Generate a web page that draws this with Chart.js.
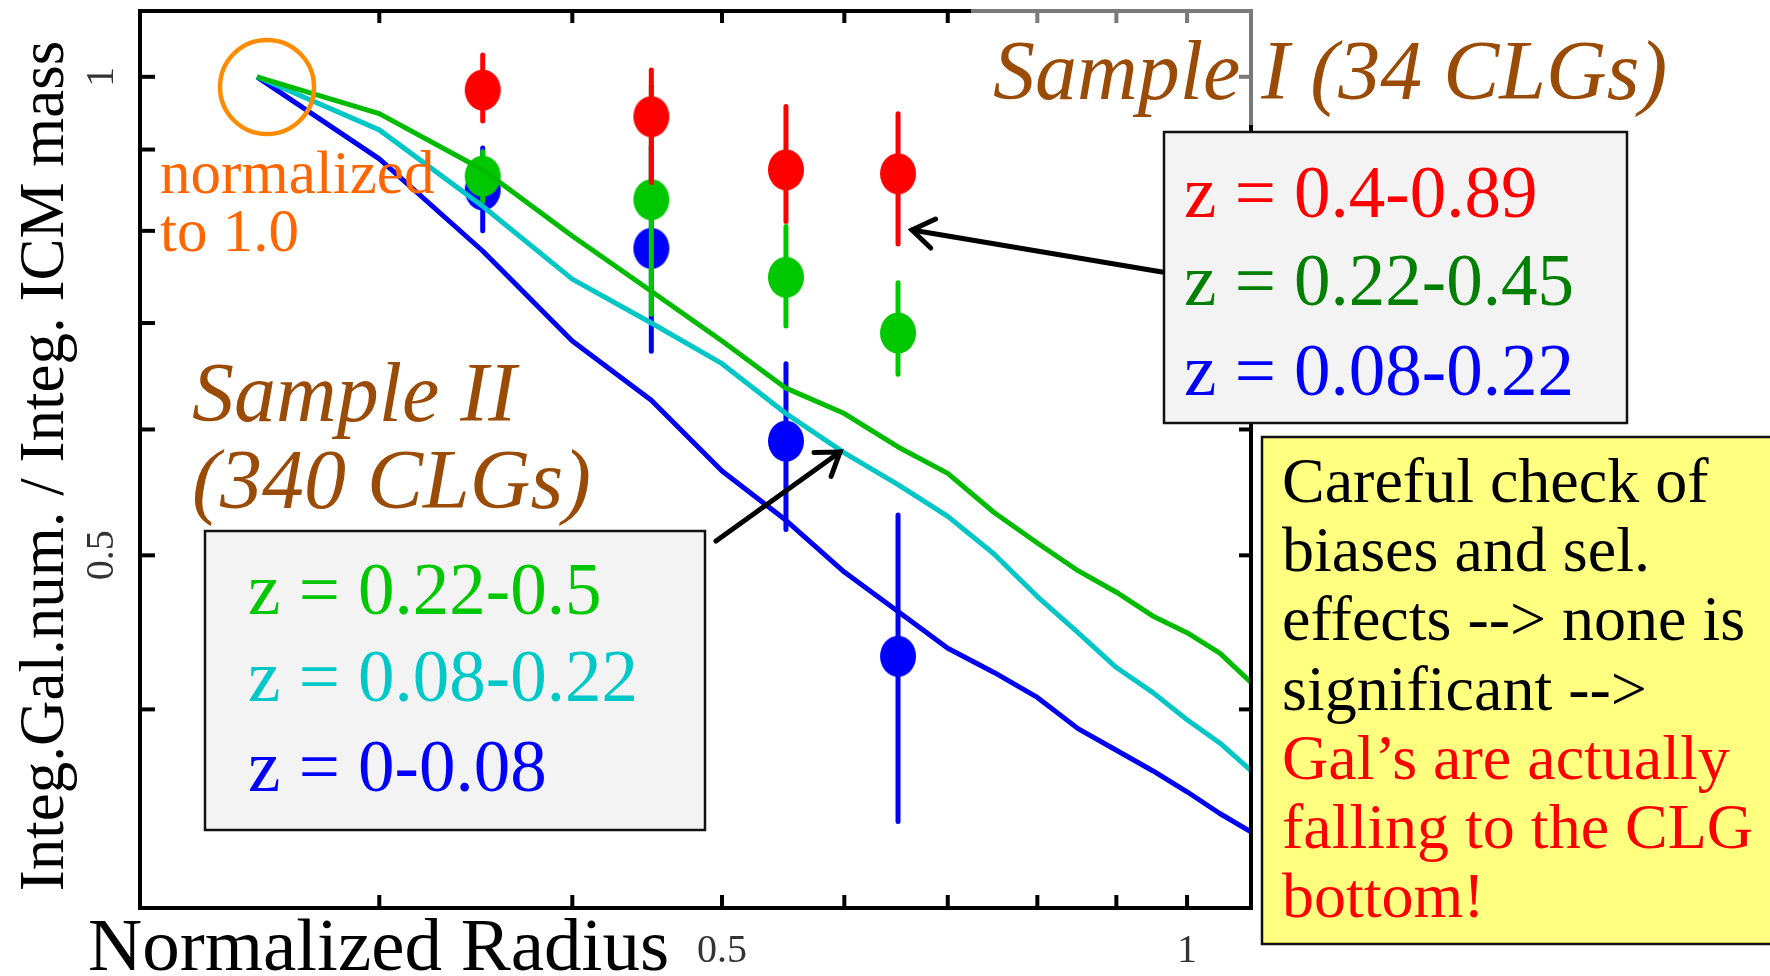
<!DOCTYPE html>
<html>
<head>
<meta charset="utf-8">
<script src="https://cdn.jsdelivr.net/npm/chart.js@4.4.1/dist/chart.umd.min.js"></script>
<style>
  html, body { margin: 0; padding: 0; background: #fff; }
  #wrap { width: 1770px; height: 976px; }
</style>
</head>
<body>
<div id="wrap"><canvas id="chart" width="1770" height="976"></canvas></div>
<script>
// Sample II: integrated profiles, sampled every 0.05 in normalized radius
const radius = [0.25, 0.3, 0.35, 0.4, 0.45, 0.5, 0.55, 0.6, 0.65, 0.7, 0.75, 0.8, 0.85, 0.9, 0.95, 1.0, 1.05, 1.1];
const profHighZ = [1.0, 0.948, 0.874, 0.794, 0.733, 0.682, 0.637, 0.614, 0.585, 0.563, 0.532, 0.509, 0.489, 0.474, 0.458, 0.447, 0.434, 0.416]; // z = 0.22-0.5
const profMidZ  = [1.0, 0.926, 0.829, 0.746, 0.700, 0.660, 0.614, 0.580, 0.554, 0.529, 0.501, 0.471, 0.447, 0.425, 0.410, 0.394, 0.381, 0.366]; // z = 0.08-0.22
const profLowZ  = [1.0, 0.888, 0.777, 0.682, 0.626, 0.565, 0.526, 0.488, 0.461, 0.437, 0.422, 0.407, 0.389, 0.377, 0.366, 0.355, 0.344, 0.335]; // z = 0-0.08

// Sample I: points with error bars
const sampleRadius = [0.35, 0.45, 0.55, 0.65];
const redVal   = [0.981, 0.944, 0.874, 0.869];
const redLo    = [0.938, 0.858, 0.811, 0.785];
const redHi    = [1.032, 1.010, 0.958, 0.948];
const greenVal = [0.866, 0.837, 0.748, 0.690];
const greenLo  = [0.835, 0.709, 0.697, 0.650];
const greenHi  = [0.897, 0.988, 0.805, 0.742];
const blueVal  = [0.849, 0.780, 0.590, 0.432];
const blueLo   = [0.800, 0.672, 0.519, 0.340];
const blueHi   = [0.902, 0.905, 0.660, 0.530];

// axes
const xMin = 0.21, xMax = 1.1;
const yMin = 0.3, yMax = 1.1;
const xTicks = [0.3, 0.4, 0.5, 0.6, 0.7, 0.8, 0.9, 1.0];
const yTicks = [0.4, 0.5, 0.6, 0.7, 0.8, 0.9, 1.0];
const xTickLabels = [[0.5, '0.5'], [1.0, '1']];
const yTickLabels = [[0.5, '0.5'], [1.0, '1']];

const SERIF = '"Liberation Serif", "Times New Roman", serif';
const BROWN = '#9a4b06';

function pts(xs, ys) {
    return xs.map(function(x, i) { return { x: x, y: ys[i] }; });
}

// ellipse marker, a little taller than wide
function dot(color) {
    const c = document.createElement('canvas');
    c.width = 38; c.height = 42;
    const g = c.getContext('2d');
    g.fillStyle = color;
    g.beginPath();
    g.ellipse(19, 21, 18, 20.5, 0, 0, Math.PI * 2);
    g.fill();
    return c;
}

function curve(ys, color) {
    return { data: pts(radius, ys), showLine: true, borderColor: color, borderWidth: 5,
             pointRadius: 0, tension: 0, borderJoinStyle: 'round', order: 0 };
}

function marks(vals, color, order) {
    return { data: pts(sampleRadius, vals), showLine: false, pointStyle: dot(color),
             pointRadius: 19, order: order };
}

function errBars(lo, hi, color, order) {
    return sampleRadius.map(function(x, i) {
        return { data: [{ x: x, y: lo[i] }, { x: x, y: hi[i] }], showLine: true,
                 borderColor: color, borderWidth: 5, borderCapStyle: 'round',
                 pointRadius: 0, order: order };
    });
}

const datasets = [
    curve(profHighZ, '#00bb00'),
    curve(profMidZ, '#00c6c6'),
    curve(profLowZ, '#0000f0'),
    marks(redVal, '#ff0000', 1)
].concat(errBars(redLo, redHi, '#ff0000', 2))
 .concat([marks(greenVal, '#00c800', 3)])
 .concat(errBars(greenLo, greenHi, '#00c800', 4))
 .concat([marks(blueVal, '#0000ff', 5)])
 .concat(errBars(blueLo, blueHi, '#0000ff', 6));

function text(ctx, s, x, y, font, color, align) {
    ctx.font = font;
    ctx.fillStyle = color;
    ctx.textAlign = align || 'left';
    ctx.textBaseline = 'alphabetic';
    ctx.fillText(s, x, y);
}

function line(ctx, x1, y1, x2, y2, color, w) {
    ctx.strokeStyle = color;
    ctx.lineWidth = w;
    ctx.beginPath();
    ctx.moveTo(x1, y1);
    ctx.lineTo(x2, y2);
    ctx.stroke();
}

function arrow(ctx, x1, y1, x2, y2) {
    const ang = Math.atan2(y2 - y1, x2 - x1);
    const len = 26, spread = 0.6;
    ctx.lineCap = 'round';
    line(ctx, x1, y1, x2, y2, '#000', 5);
    ctx.beginPath();
    ctx.moveTo(x2 - len * Math.cos(ang - spread), y2 - len * Math.sin(ang - spread));
    ctx.lineTo(x2, y2);
    ctx.lineTo(x2 - len * Math.cos(ang + spread), y2 - len * Math.sin(ang + spread));
    ctx.stroke();
    ctx.lineCap = 'butt';
}

function box(ctx, x, y, w, h, fill) {
    ctx.fillStyle = fill;
    ctx.fillRect(x, y, w, h);
    ctx.strokeStyle = '#111';
    ctx.lineWidth = 2.5;
    ctx.strokeRect(x, y, w, h);
}

// frame, ticks, labels and the slide annotations
const decor = {
    id: 'decor',
    afterDatasetsDraw: function(chart) {
        const ctx = chart.ctx;
        const a = chart.chartArea;
        const sx = chart.scales.x, sy = chart.scales.y;
        const grayFromX = 973, grayToY = 127;
        ctx.save();

        // "normalized to 1.0" marker
        ctx.strokeStyle = '#ff8c00';
        ctx.lineWidth = 4.5;
        ctx.beginPath();
        ctx.ellipse(267, 87, 47, 47, 0, 0, Math.PI * 2);
        ctx.stroke();
        text(ctx, 'normalized', 160, 193, '61px ' + SERIF, '#ff6600');
        text(ctx, 'to 1.0', 160, 251, '61px ' + SERIF, '#ff6600');

        text(ctx, 'Sample II', 192, 421, 'italic 84px ' + SERIF, BROWN);
        text(ctx, '(340 CLGs)', 192, 508, 'italic 84px ' + SERIF, BROWN);
        text(ctx, 'Sample I (34 CLGs)', 993, 99, 'italic 84px ' + SERIF, BROWN);

        // axis box
        ctx.lineCap = 'square';
        line(ctx, a.left, a.top, a.left, a.bottom, '#000', 4);
        line(ctx, a.left, a.bottom, a.right, a.bottom, '#000', 4);
        line(ctx, a.left, a.top, grayFromX, a.top, '#000', 4);
        line(ctx, grayFromX, a.top, a.right, a.top, '#7a7a7a', 4);
        line(ctx, a.right, a.top, a.right, grayToY, '#7a7a7a', 4);
        line(ctx, a.right, grayToY, a.right, a.bottom, '#000', 4);
        ctx.lineCap = 'butt';

        xTicks.forEach(function(v) {
            const px = sx.getPixelForValue(v);
            line(ctx, px, a.bottom, px, a.bottom - 13, '#000', 4);
            line(ctx, px, a.top, px, a.top + 12, px > grayFromX ? '#7a7a7a' : '#000', 4);
        });
        yTicks.forEach(function(v) {
            const py = sy.getPixelForValue(v);
            line(ctx, a.left, py, a.left + 15, py, '#000', 4);
            line(ctx, a.right, py, a.right - 12, py, py < grayToY ? '#7a7a7a' : '#000', 4);
        });

        xTickLabels.forEach(function(t) {
            text(ctx, t[1], sx.getPixelForValue(t[0]), 962, '40px ' + SERIF, '#333', 'center');
        });
        yTickLabels.forEach(function(t) {
            ctx.save();
            ctx.translate(113, sy.getPixelForValue(t[0]));
            ctx.rotate(-Math.PI / 2);
            text(ctx, t[1], 0, 0, '40px ' + SERIF, '#333', 'center');
            ctx.restore();
        });

        text(ctx, 'Normalized Radius', 88, 970, '75px ' + SERIF, '#000');
        ctx.save();
        ctx.translate(63, 466);
        ctx.rotate(-Math.PI / 2);
        text(ctx, 'Integ.Gal.num. / Integ. ICM mass', 0, 0, '63px ' + SERIF, '#000', 'center');
        ctx.restore();

        // Sample I legend
        box(ctx, 1164, 132, 463, 291, '#f3f3f3');
        text(ctx, 'z = 0.4-0.89', 1184, 217, '73px ' + SERIF, '#ff0000');
        text(ctx, 'z = 0.22-0.45', 1184, 305, '73px ' + SERIF, '#007f00');
        text(ctx, 'z = 0.08-0.22', 1184, 395, '73px ' + SERIF, '#0000ff');

        // Sample II legend
        box(ctx, 205, 531, 500, 299, '#f3f3f3');
        text(ctx, 'z = 0.22-0.5', 248, 614, '73px ' + SERIF, '#00c800');
        text(ctx, 'z = 0.08-0.22', 248, 701, '73px ' + SERIF, '#00c8c8');
        text(ctx, 'z = 0-0.08', 248, 791, '73px ' + SERIF, '#0000ff');

        // comment box
        box(ctx, 1262, 437, 520, 507, '#ffff80');
        const note = ['Careful check of', 'biases and sel.', 'effects --> none is', 'significant -->'];
        const noteRed = ['Gal\u2019s are actually', 'falling to the CLG', 'bottom!'];
        note.forEach(function(s, i) { text(ctx, s, 1282, 502 + i * 69.2, '64px ' + SERIF, '#000'); });
        noteRed.forEach(function(s, i) { text(ctx, s, 1282, 502 + (i + 4) * 69.2, '64px ' + SERIF, '#ff0000'); });

        arrow(ctx, 1162, 272, 912, 230);
        arrow(ctx, 716, 541, 840, 452);

        ctx.restore();
    }
};

new Chart(document.getElementById('chart'), {
    type: 'scatter',
    data: { datasets: datasets },
    options: {
        responsive: false,
        animation: false,
        devicePixelRatio: 1,
        layout: { autoPadding: false, padding: { left: 140, top: 11, right: 519, bottom: 68 } },
        plugins: { legend: { display: false }, tooltip: { enabled: false } },
        scales: {
            x: { type: 'logarithmic', min: xMin, max: xMax, display: false },
            y: { type: 'logarithmic', min: yMin, max: yMax, display: false }
        }
    },
    plugins: [decor]
});
</script>
</body>
</html>
